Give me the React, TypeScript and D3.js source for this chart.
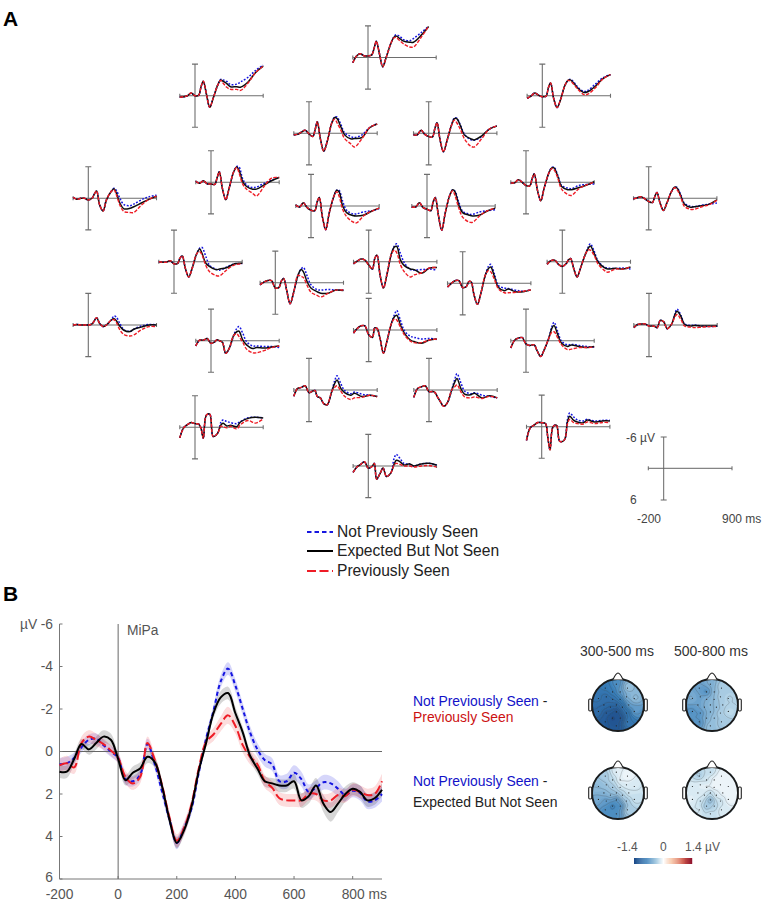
import React from "react";
import * as d3 from "d3";

// ---- Panel A: waveform sample times (ms) and values (µV, negative up)
const gridTimes = [-200,-150,-100,-50,0,50,80,110,150,195,240,300,340,370,420,470,550,600,700,800,900];
const TAIL_START = 11;

const black01 = [1,-0.3,-0.7,-0.3,-0.3,-0.5,-1.7,-3.1,-0.8,1.75,0,-2.6,-3.8,-4.1,-3.6,-3.1,-2.9,-2.9,-4.2,-5.9];
const blue01 = [-2.6,-3.9,-4.3,-4,-3.4,-3.2,-3.6,-4.7,-5.9];
const red01 = [-2.6,-3.7,-3.8,-3.2,-2.6,-2,-2,-3.8,-5.9];
const black02 = [0.3,0.2,0,-0.5,0,-0.1,-1.7,-2.75,-0.4,2.2,0.5,-2,-3,-2.75,-2.3,-1.7,-1.7,-1.6,-2.6,-4.4,-5.6];
const blue02 = [-2,-3.1,-3,-2.7,-2.1,-2.2,-2.6,-3.5,-4.8,-5.8];
const red02 = [-2,-2.9,-2.4,-1.6,-1.2,-1.2,-1,-2.4,-4.4,-5.6];
const black03 = [0.5,0.1,-0.5,-0.1,0.2,0.1,-1.5,-2.4,0.5,2.25,0.8,-2,-2.9,-3,-2.3,-1.4,-0.6,-0.75,-1.8,-3.25,-4];
const blue03 = [-2,-2.9,-3.1,-2.5,-1.6,-0.8,-1,-2.2,-3.4,-4];
const red03 = [-2,-2.9,-2.8,-2.1,-1.2,-0.2,-0.3,-1.5,-3.2,-4];
const black04 = [0.3,0.2,-0.2,-0.6,0.1,0.6,-0.6,-2.2,1,3.4,1.6,-1.9,-3,-2.8,-1.25,0.3,1.05,1,0.8,-1.05,-1.75];
const blue04 = [-1.9,-3.1,-3.1,-1.7,-0.1,0.6,0.8,0.3,-1.1,-1.8];
const red04 = [-1.9,-2.7,-2,-0.6,1,2,2.6,1,-1.1,-1.75];
const black05 = [0.3,0.3,-0.6,0.2,0.6,0.7,-0.8,-2,1.2,3.5,1.5,-1.5,-2.8,-2.8,-1.4,0.3,1,1.25,0.5,-0.8,-1.4];
const blue05 = [-1.5,-2.9,-2.9,-1.5,0.1,1.2,1.3,0.6,-0.8,-1.4];
const red05 = [-1.5,-2.5,-2,-0.7,1,2.4,2.6,1,-0.8,-1.4];
const black06 = [-0.2,0.2,0,0,0.3,0,-0.8,-1.4,1.25,2.4,0.3,-1.25,-1.8,-1,1,2,1.9,1.6,0.9,0.2,-0.4];
const blue06 = [-1.25,-1.9,-1.5,0.1,1.2,1.4,1.1,0.3,-0.3,-0.6];
const red06 = [-1.25,-1.6,-0.7,1.4,2.5,2.7,2.7,1.3,0.2,-0.4];
const black07 = [-0.2,0.2,-0.3,0.3,0.3,0.4,-0.8,-2,1.1,3.3,1.1,-2,-2.9,-2.3,-0.1,0.8,1.3,1.3,0.5,-0.3,-0.9];
const blue07 = [-2,-3,-2.9,-0.6,0.5,1,0.9,0.2,-0.4,-1];
const red07 = [-2,-2.8,-1.8,0.4,1.3,2.1,2.6,0.8,-0.8,-0.9];
const black08 = [-0.2,0.2,-0.6,0.3,0.8,0.9,-0.7,-1.6,2,4.5,1.4,-1.75,-3,-2.7,0.1,1.25,1.8,1.9,1.7,1,0.4];
const blue08 = [-1.75,-3,-3,-0.8,0.8,1.5,1.5,1.1,0.9,0.5];
const red08 = [-1.75,-2.7,-1.9,0.7,2,3,3.2,1.8,1,0.4];
const black09 = [0.2,0.2,-0.6,0.3,0.6,0.9,-0.7,-1.6,1.7,4.6,1.4,-2,-3.1,-2.7,-0.2,1.25,1.7,1.9,1.7,0.9,0.4];
const blue09 = [-2,-3.1,-2.8,-0.7,1,1.5,1.6,1.1,0.9,0.7];
const red09 = [-2,-2.9,-2,0.4,2.1,3,3.1,1.8,0.9,0.4];
const black10 = [0.1,0.1,-0.5,0,0.6,0.7,-0.6,-1.6,1.4,3.5,1.1,-1.7,-2.75,-2.75,-1.1,0.8,1.4,1.4,1,0.5,-0.1];
const blue10 = [-1.7,-2.8,-2.9,-1.3,0.6,1.1,1.2,0.6,0.4,0.3];
const red10 = [-1.7,-2.6,-2.4,-0.8,1.3,2.3,2.5,1.2,0.5,0];
const black11 = [0.1,-0.1,-0.3,0.1,0.6,0.8,-0.3,-1.1,0.9,2.3,0.9,-1.25,-2.1,-2,-0.6,1.1,1.7,1.6,1.4,1.1,0.3];
const blue11 = [-1.25,-2.1,-2.1,-0.8,0.9,1.5,1.6,1.3,1.1,0.9];
const red11 = [-1.25,-2,-1.7,-0.4,1.5,2.1,2.1,1.6,1.2,0.4];
const black12 = [0,0.1,0.1,-0.2,0.4,0.3,-0.7,-1.1,1.25,2.9,1.25,-1.5,-2.4,-1.6,0.3,0.9,1.5,1.4,1.1,0.4,0.3];
const blue12 = [-1.5,-2.6,-2.7,-1,0.7,1.4,1.6,1,0.4,0.4];
const red12 = [-1.5,-1.9,-1.3,0.7,1.9,2.6,2.7,1.5,0.6,0.4];
const black13 = [0.4,-0.1,-0.4,-0.4,1,0.9,-0.3,-0.8,1.4,4,2,-1.4,-2.5,-2.1,-0.2,1,1.7,2,2,1.4,1.5];
const blue13 = [-1.4,-2.6,-2.9,-1.3,0.4,1.3,1.4,1.3,1.4,1.4];
const red13 = [-1.4,-1.2,-1,0.5,1.8,2.4,2.7,2,1.4,1.4];
const black14 = [0.4,-0.1,-0.5,-0.3,0.6,1.4,-0.6,-1.25,2.5,5,2.5,-1.5,-2.8,-2.9,-0.3,0.75,1.4,1.5,2.2,1.2,1.1];
const blue14 = [-1.5,-3,-3.4,-1.5,0.2,1.5,1.6,1.5,1.4,1.6];
const red14 = [-1.5,-2.2,-1.7,0.6,1.9,2.9,2.5,2.1,1.2,1.1];
const black15 = [0.7,0,-0.5,-0.5,0.8,0.6,-0.3,-0.3,2.2,4,1.9,-1.6,-2.8,-3.1,-1.25,0.75,1.4,1.1,1.6,1.6,1.25];
const blue15 = [-1.6,-3.2,-3.6,-1.7,0.4,0.9,1,1.3,1.5,1.2];
const red15 = [-1.6,-2.4,-2.2,-0.7,1,1.8,1.8,1.7,1.5,1.25];
const black16 = [0.5,-0.2,-0.3,0.5,0.9,0.4,-0.3,-0.6,1.25,2.9,1.25,-1.25,-2.5,-3,-1.6,0,1.1,1.4,1.25,1.4,1];
const blue16 = [-1.25,-2.7,-3.4,-2,-0.2,1,1.2,1.3,1.2,1.4];
const red16 = [-1.25,-2.2,-2.2,-1.2,0.4,1.6,2,1.4,1.4,1];
const black17 = [0,-0.1,0,0,0,-0.2,-0.8,-1.4,-0.3,0.3,0,-0.9,-1.2,-0.8,0.3,1,1.25,0.8,0.4,0,0];
const blue17 = [-0.9,-1.7,-1.5,-0.2,0.9,1.2,0.8,0.2,-0.1,0];
const red17 = [-0.9,-1,-0.5,1,1.8,2.1,1.9,0.9,0.3,0.3];
const black18 = [1,-0.1,-0.1,-0.4,0.5,0.2,-0.2,0,0.3,2.4,1.5,-1,-1.7,-1.8,-0.1,0.8,1.5,1.3,1.4,1.2,1];
const blue18 = [-1,-2.3,-2.7,-1.4,0.2,1,1,1.1,1.1,1.3];
const red18 = [-1,-1.3,-0.8,0.3,1.6,2.3,2.3,1.9,1.3,1];
const black19 = [0.6,-0.3,-0.8,-0.8,0.9,1.4,-0.4,-0.3,1.6,4.4,2.2,-1.25,-2.5,-2.8,-0.9,0.6,1.9,2.2,2.5,1.9,1.7];
const blue19 = [-1.25,-2.9,-3.7,-1.8,0.1,1.2,1.4,1.7,1.6,1.8];
const red19 = [-1.25,-2.1,-1.9,-0.5,0.9,2.1,2.4,2.4,1.9,1.7];
const black20 = [1.4,-0.1,-0.5,-0.6,0.6,0.9,0.8,0.8,2,3,1.75,-0.4,-2.3,-2.9,-1.1,0.5,1.1,0.8,1.1,1.3,1.1];
const blue20 = [-0.4,-2.6,-3.5,-1.7,0.1,0.8,0.7,0.9,1.1,1.2];
const red20 = [-0.4,-1.6,-1.7,-0.5,0.8,1.7,1.6,1.3,1.3,1.2];
const black21 = [0.5,-0.1,-0.2,-0.2,0.2,0.2,0.3,0.5,-0.9,-0.6,0.7,-0.2,-1.9,-2.6,-1.7,-0.1,0.2,0.1,0.2,0.2,0.2];
const blue21 = [-0.2,-2,-3,-1.9,-0.2,0.1,0,0.2,0.3,0.2];
const red21 = [-0.2,-1.5,-2,-1.1,0.2,0.4,0.5,0.4,0.3,0.3];
const black22 = [1.2,-0.3,-0.5,-0.8,0.5,0.2,0.1,1.25,1.5,2.6,2.8,0.3,-1.25,-1.9,-0.3,0.5,1,0.6,1.25,1,1.25];
const blue22 = [0.3,-1.8,-2.7,-1.2,0.1,0.7,0.4,0.8,1,1.2];
const red22 = [0.3,-0.5,-0.8,0.2,1.2,1.8,1.5,1.4,1,1.3];
const black23 = [1.4,-0.3,-0.6,-0.8,0.3,0.3,0.5,1.25,2.2,3.1,2.5,0,-1.5,-2.2,-0.3,0.8,0.9,0.6,1.5,1.1,1.5];
const blue23 = [0,-2,-3.1,-1.4,0.2,0.7,0.5,1,1.2,1.5];
const red23 = [0,-0.6,-1,0.3,1.3,1.5,1.3,1.6,1.2,1.5];
const black24 = [2,0.1,-0.5,-0.9,-0.7,-0.6,0.2,2.1,-2.3,-2.5,1.75,1.1,-0.4,-0.75,-0.25,-0.4,-0.1,-1,-1.7,-1.9,-1.75];
const blue24 = [1.1,-0.9,-1.4,-1.1,-0.9,-0.7,-1.1,-1.8,-1.9,-1.8];
const red24 = [1.1,-0.2,-0.1,0.1,-0.2,0.3,-0.5,-1.3,-0.8,-1.6];
const black25 = [2.6,0.2,-0.3,-0.8,-0.75,-0.6,1.9,4.4,0,-0.3,2.8,2.5,-0.9,-2,-1.25,-0.9,-0.75,-1.25,-0.9,-1.1,-1.1];
const blue25 = [2.5,-1.4,-2.6,-1.9,-1.3,-1.1,-1.4,-1.1,-1.2,-1.2];
const red25 = [2.5,-0.5,-1.4,-0.8,-0.6,-0.5,-0.9,-0.6,-0.8,-0.8];
const black26 = [1.2,0.2,-0.3,-0.8,0.4,0.1,-0.5,2.5,1.6,0.4,2,1.25,-0.3,-1.1,-0.8,-0.2,-0.4,0,-0.4,-0.5,-0.2];
const blue26 = [1.25,-1.4,-2.2,-1.4,-0.5,-0.3,0,-0.4,-0.5,-0.2];
const red26 = [1.25,-0.2,-0.5,-0.3,0,0,0.2,0,-0.1,0.2];

const panelBlack = [black01,black02,black03,black04,black05,black06,black07,black08,black09,black10,black11,black12,black13,black14,black15,black16,black17,black18,black19,black20,black21,black22,black23,black24,black25,black26];
const panelBlue = [blue01,blue02,blue03,blue04,blue05,blue06,blue07,blue08,blue09,blue10,blue11,blue12,blue13,blue14,blue15,blue16,blue17,blue18,blue19,blue20,blue21,blue22,blue23,blue24,blue25,blue26];
const panelRed = [red01,red02,red03,red04,red05,red06,red07,red08,red09,red10,red11,red12,red13,red14,red15,red16,red17,red18,red19,red20,red21,red22,red23,red24,red25,red26];

// where each electrode's small plot sits on the page
const originX = [368,195,542.3,309,428.7,88.3,211,311,427,526,648.7,174,275.3,368.7,462.7,562.3,88.3,211,368.7,526,649,309,429,195,541.7,368.3];
const originY = [57.5,95.7,95.7,133.3,133.3,198.3,182.3,206,206,182.3,198.3,261.7,282.7,261.7,283.3,261.7,325,340.7,330,340.7,325,390,390,427.3,426.7,466];

// ---- Panel B: MiPa grand average
const miPaTimes = d3.range(-200, 901, 25);
const miPaBlue = [0.6,0.55,0.3,-0.2,-0.55,-0.6,-0.3,0,0.3,1.3,1.4,1.1,-0.35,0.6,1.9,3.2,4.3,3.6,2.7,1,-0.6,-1.9,-3.3,-3.9,-3.1,-2,-0.9,-0.1,0.4,0.6,1.4,1.4,1,1.3,1.9,1.7,1.45,1.5,1.75,2.05,1.85,1.95,2.35,2.3,2];
const miPaBlack = [0.95,0.95,0.35,-0.35,-0.1,-0.4,-0.7,-0.55,0.35,1.35,1,0.8,0.25,0.5,1.65,3.2,4.3,3.7,2.6,0.9,-0.4,-1.8,-2.55,-2.75,-1.8,-0.9,0.2,0.8,1.4,1.5,1.6,1.6,1.4,2.3,2.1,1.6,2.45,2.85,2.45,2,1.75,1.9,2.3,2.2,1.8];
const miPaRed = [0.65,0.55,0.75,-0.4,-0.7,-0.55,-0.35,-0.05,0.3,1.2,1.5,1.2,-0.4,0.4,1.6,3.1,4.2,3.6,2.5,0.8,-0.45,-0.8,-1.3,-1.7,-1.2,-0.3,0.25,0.6,1.4,1.7,2.2,2.3,2.3,2.3,2,2,2.3,2.3,2.05,2.1,1.8,1.9,2.05,2,1.4];
const semBlue = [0.3,0.3,0.25,0.25,0.25,0.25,0.25,0.25,0.25,0.25,0.25,0.25,0.25,0.25,0.25,0.25,0.3,0.25,0.25,0.25,0.25,0.25,0.3,0.3,0.3,0.3,0.3,0.3,0.3,0.3,0.3,0.35,0.35,0.35,0.35,0.35,0.35,0.35,0.35,0.3,0.3,0.35,0.35,0.35,0.35];
const semBlack = [0.3,0.3,0.25,0.25,0.25,0.3,0.3,0.3,0.25,0.25,0.3,0.3,0.3,0.25,0.25,0.25,0.25,0.25,0.25,0.2,0.2,0.25,0.3,0.3,0.3,0.25,0.25,0.25,0.25,0.25,0.3,0.3,0.35,0.35,0.35,0.35,0.4,0.45,0.4,0.35,0.3,0.3,0.3,0.3,0.3];
const semRed = [0.3,0.35,0.3,0.3,0.3,0.3,0.25,0.25,0.25,0.3,0.3,0.3,0.3,0.25,0.25,0.25,0.3,0.3,0.25,0.2,0.25,0.3,0.35,0.4,0.35,0.35,0.35,0.3,0.3,0.3,0.3,0.3,0.3,0.3,0.3,0.3,0.3,0.35,0.35,0.3,0.3,0.3,0.3,0.35,0.35];
const miPaYTicks = [-6,-4,-2,0,2,4,6];
const miPaXTicks = [-200,0,200,400,600,800];

// ---- Topographies: one value per electrode (µV)
const topoA = [-0.7,-0.85,-0.35,-0.8,-0.6,-0.9,-1,-0.95,-0.8,-0.45,-0.4,-1,-1.1,-1.1,-0.95,-0.55,-1,-1.2,-1.35,-0.95,-0.6,-1.35,-1.3,-1.2,-0.85,-1.25];
const topoB = [-0.5,-0.6,-0.3,-0.75,-0.45,-0.5,-0.6,-0.5,-0.45,-0.3,-0.3,-0.6,-0.5,-0.45,-0.45,-0.3,-0.7,-0.7,-0.5,-0.3,-0.25,-0.5,-0.4,-0.7,-0.35,-0.4];
const topoC = [-0.1,-0.35,-0.02,-0.25,-0.05,-0.45,-0.4,-0.35,-0.15,-0.1,-0.15,-0.5,-0.45,-0.4,-0.3,-0.15,-0.55,-0.65,-0.75,-0.35,-0.2,-0.8,-0.75,-0.7,-0.3,-0.7];
const topoD = [-0.25,-0.35,-0.05,-0.2,-0.05,-0.15,-0.1,-0.05,-0.02,-0.05,-0.05,-0.1,-0.15,-0.3,-0.1,-0.05,-0.1,-0.2,-0.55,-0.2,-0.05,-0.4,-0.3,-0.15,-0.12,-0.2];
const topoCx = [618,712,618,712];
const topoCy = [705,705,793,793];
const topoValues = [topoA,topoB,topoC,topoD];

const legendLabels = ["Not Previously Seen","Expected But Not Seen","Previously Seen"];

const BLUE = "#1212e0";
const RED = "#ee1c25";
const INK = "#555";
const FONT = "'Liberation Sans', Arial, sans-serif";

const topoColor = d3.scaleLinear<string>()
  .domain([-1.4,-0.8,-0.25,0,0.4,0.9,1.4])
  .range(["#1c4a88","#3a80ba","#c4deec","#ffffff","#f7c3a2","#d4604f","#8a0f2a"]);

const GRID = 44;
const HEAD_R = 26;

function topoField(values: number[]) {
  const ex = originX.map((x) => (x - 394) / 325 * 0.8);
  const ey = originY.map((y) => (y - 262) / 204 * 0.8);
  const field = new Array(GRID * GRID);
  for (let j = 0; j < GRID; j++) {
    for (let i = 0; i < GRID; i++) {
      const px = (i + 0.5) / GRID * 2 - 1;
      const py = (j + 0.5) / GRID * 2 - 1;
      let sum = 0, wsum = 0;
      values.forEach((v, k) => {
        const d2 = (px - ex[k]) ** 2 + (py - ey[k]) ** 2 + 0.04;
        const w = 1 / (d2 * d2);
        sum += w * v; wsum += w;
      });
      field[j * GRID + i] = sum / wsum;
    }
  }
  return field as number[];
}

function Topo({ idx }: { idx: number }) {
  const cx = topoCx[idx], cy = topoCy[idx], values = topoValues[idx];
  const field = topoField(values);
  const fills = d3.contours().size([GRID, GRID]).thresholds(d3.range(-1.6, 1.0, 0.04))(field);
  const lines = d3.contours().size([GRID, GRID]).thresholds(d3.range(-1.5, 0, 0.07))(field);
  const path = d3.geoPath();
  const k = (2 * HEAD_R) / GRID;
  const ex = originX.map((x) => cx + (x - 394) / 325 * 0.8 * HEAD_R);
  const ey = originY.map((y) => cy + (y - 262) / 204 * 0.8 * HEAD_R);
  return (
    <g>
      <clipPath id={`head${idx}`}><circle cx={cx} cy={cy} r={HEAD_R} /></clipPath>
      <circle cx={cx} cy={cy} r={HEAD_R + 1} fill="#b5d6e6" />
      <g clipPath={`url(#head${idx})`}>
        <g transform={`translate(${cx - HEAD_R},${cy - HEAD_R}) scale(${k})`}>
          <rect width={GRID} height={GRID} fill={topoColor(d3.min(field) as number)} />
          {fills.map((c, i) => <path key={i} d={path(c as any) as string} fill={topoColor(c.value)} />)}
          {lines.map((c, i) => <path key={i} d={path(c as any) as string} fill="none" stroke="#444" strokeOpacity={0.5} strokeWidth={0.45} vectorEffect="non-scaling-stroke" />)}
        </g>
      </g>
      {ex.map((x, i) => <circle key={i} cx={x} cy={ey[i]} r={0.6} fill="#222" />)}
      <circle cx={cx} cy={cy} r={HEAD_R} fill="none" stroke="#1a1a1a" strokeWidth={1.9} />
      <path d={`M${cx - 5},${cy - HEAD_R + 0.5} Q${cx - 2},${cy - HEAD_R - 6} ${cx},${cy - HEAD_R - 6} Q${cx + 2},${cy - HEAD_R - 6} ${cx + 5},${cy - HEAD_R + 0.5}`} fill="#fff" stroke="#222" strokeWidth={1.2} />
      <rect x={cx - HEAD_R - 3.3} y={cy - 6} width={3} height={12} rx={1.2} fill="#fff" stroke="#222" strokeWidth={1.1} />
      <rect x={cx + HEAD_R + 0.3} y={cy - 6} width={3} height={12} rx={1.2} fill="#fff" stroke="#222" strokeWidth={1.1} />
    </g>
  );
}

function SmallPanel({ idx }: { idx: number }) {
  const vx = originX[idx], zy = originY[idx];
  const x = d3.scaleLinear().domain([-200, 900]).range([vx - 15.2, vx + 68.2]);
  const y = d3.scaleLinear().domain([-6, 6]).range([zy - 31.6, zy + 31.6]);
  const black = panelBlack[idx];
  const early = black.slice(0, TAIL_START);
  const line = d3.line<number>()
    .x((_, i) => x(gridTimes[i]))
    .y((v) => y(v))
    .curve(d3.curveCatmullRom.alpha(0.5));
  return (
    <g>
      <path d={`M${x(-200)},${zy}H${x(900)}M${x(-200)},${zy - 2}V${zy + 2}M${x(900)},${zy - 2}V${zy + 2}`} fill="none" stroke="#6e6e6e" strokeWidth={1.1} />
      <path d={`M${vx},${y(-6)}V${y(6)}M${vx - 3},${y(-6)}H${vx + 3}M${vx - 3},${y(6)}H${vx + 3}`} fill="none" stroke="#6e6e6e" strokeWidth={1.1} />
      <path d={line([...early, ...panelBlue[idx]]) as string} fill="none" stroke={BLUE} strokeWidth={1.5} strokeDasharray="1.8 1.6" />
      <path d={line(black) as string} fill="none" stroke="#111" strokeWidth={1.5} />
      <path d={line([...early, ...panelRed[idx]]) as string} fill="none" stroke={RED} strokeWidth={1.4} strokeDasharray="3.5 1.5" />
    </g>
  );
}

function MiPa() {
  const x = d3.scaleLinear().domain([-200, 900]).range([59.5, 382]);
  const y = d3.scaleLinear().domain([-6, 6]).range([624, 879]);
  const line = d3.line<number>().x((_, i) => x(miPaTimes[i])).y((v) => y(v)).curve(d3.curveCatmullRom.alpha(0.5));
  const band = (mean: number[], sem: number[]) =>
    d3.area<number>().x((_, i) => x(miPaTimes[i])).y0((v, i) => y(v - sem[i])).y1((v, i) => y(v + sem[i])).curve(d3.curveCatmullRom.alpha(0.5))(mean) as string;
  return (
    <g>
      <g filter="url(#soft)">
        <path d={band(miPaBlue, semBlue)} fill="#1a1ae0" fillOpacity={0.16} />
        <path d={band(miPaBlack, semBlack)} fill="#000" fillOpacity={0.16} />
        <path d={band(miPaRed, semRed)} fill="#ee1c25" fillOpacity={0.16} />
        <path d={`M${x(-200)},${y(0)}H${x(900)}`} stroke="#666" strokeWidth={1} fill="none" />
        <path d={`M${x(0)},${y(-6)}V${y(6)}`} stroke="#666" strokeWidth={1} fill="none" />
        <path d={`M${x(-200)},${y(-6)}V${y(6)}H${x(900)}`} stroke="#777" strokeWidth={1} fill="none" />
        {miPaYTicks.map((t) => <path key={t} d={`M${x(-200)},${y(t)}h3`} stroke="#777" fill="none" />)}
        {miPaXTicks.map((t) => <path key={t} d={`M${x(t)},${y(6)}v-3`} stroke="#777" fill="none" />)}
        <path d={line(miPaBlue) as string} fill="none" stroke={BLUE} strokeWidth={2} strokeDasharray="4 3" />
        <path d={line(miPaRed) as string} fill="none" stroke={RED} strokeWidth={2} strokeDasharray="9 3.5" />
        <path d={line(miPaBlack) as string} fill="none" stroke="#000" strokeWidth={2} />
      </g>
      <g fontFamily={FONT} fontSize={13.8} fill={INK}>
        {miPaYTicks.map((t) => (
          <text key={t} x={53} y={t === 6 ? y(t) - 2 : y(t)} textAnchor="end" dominantBaseline="central">{t}</text>
        ))}
        <text x={20} y={624} dominantBaseline="central">µV</text>
        {miPaXTicks.map((t) => t === 800
          ? <text key={t} x={x(t) - 11} y={898.5}>800 ms</text>
          : <text key={t} x={x(t)} y={898.5} textAnchor="middle">{t}</text>)}
        <text x={127} y={635}>MiPa</text>
      </g>
    </g>
  );
}

export default function App() {
  const barScale = d3.scaleLinear().domain([-1.4, 1.4]).range([634, 692]);
  const barSteps = d3.range(-1.4, 1.4, 0.05);
  const legendDash = ["4.5 3", undefined, "9 3.5"];
  const legendStroke = [BLUE, "#000", RED];
  const legendY = [532, 551, 571];
  return (
    <svg width={763} height={900} style={{ position: "absolute", left: 0, top: 0, display: "block" }}>
      <defs>
        <filter id="soft" x="-5%" y="-5%" width="110%" height="110%"><feGaussianBlur stdDeviation="0.45" /></filter>
      </defs>
      <rect width={763} height={900} fill="#fff" />
      <g fontFamily={FONT} fontWeight="bold" fontSize={21} fill="#000">
        <text x={3} y={26}>A</text>
        <text x={3} y={601}>B</text>
      </g>
      <g filter="url(#soft)">
        {originX.map((_, i) => <SmallPanel key={i} idx={i} />)}
        <path d="M648.3,468.3H732M648.3,466.3v4M732,466.3v4M663.7,437V500M660.7,437h6M660.7,500h6" fill="none" stroke="#666" strokeWidth={1} />
        {legendLabels.map((_, i) => (
          <path key={i} d={`M307,${legendY[i]}H333`} stroke={legendStroke[i]} strokeWidth={2} strokeDasharray={legendDash[i]} fill="none" />
        ))}
      </g>
      <g fontFamily={FONT} fontSize={12} fill="#444">
        <text x={626} y={442}>-6 µV</text>
        <text x={630} y={504}>6</text>
        <text x={637} y={523}>-200</text>
        <text x={722} y={523}>900 ms</text>
      </g>
      <g fontFamily={FONT} fontSize={15.6} fill="#222">
        {legendLabels.map((t, i) => <text key={t} x={337} y={legendY[i] + 5}>{t}</text>)}
      </g>
      <MiPa />
      <g fontFamily={FONT} fontSize={13.9}>
        <text x={413} y={706}><tspan fill="#1212c8">Not Previously Seen</tspan><tspan fill="#222"> -</tspan></text>
        <text x={413} y={722} fill="#cc1111">Previously Seen</text>
        <text x={413} y={786}><tspan fill="#1212c8">Not Previously Seen</tspan><tspan fill="#222"> -</tspan></text>
        <text x={413} y={807} fill="#222">Expected But Not Seen</text>
      </g>
      <g fontFamily={FONT} fontSize={14} fill="#333">
        <text x={580} y={656}>300-500 ms</text>
        <text x={674} y={656}>500-800 ms</text>
      </g>
      <g filter="url(#soft)">
        {topoCx.map((_, i) => <Topo key={i} idx={i} />)}
        {barSteps.map((v) => (
          <rect key={v} x={barScale(v)} y={858} width={barScale(0.06) - barScale(0)} height={6} fill={topoColor(v)} />
        ))}
      </g>
      <g fontFamily={FONT} fontSize={12} fill="#555">
        <text x={617} y={851}>-1.4</text>
        <text x={660} y={851}>0</text>
        <text x={685} y={851}>1.4 µV</text>
      </g>
    </svg>
  );
}
